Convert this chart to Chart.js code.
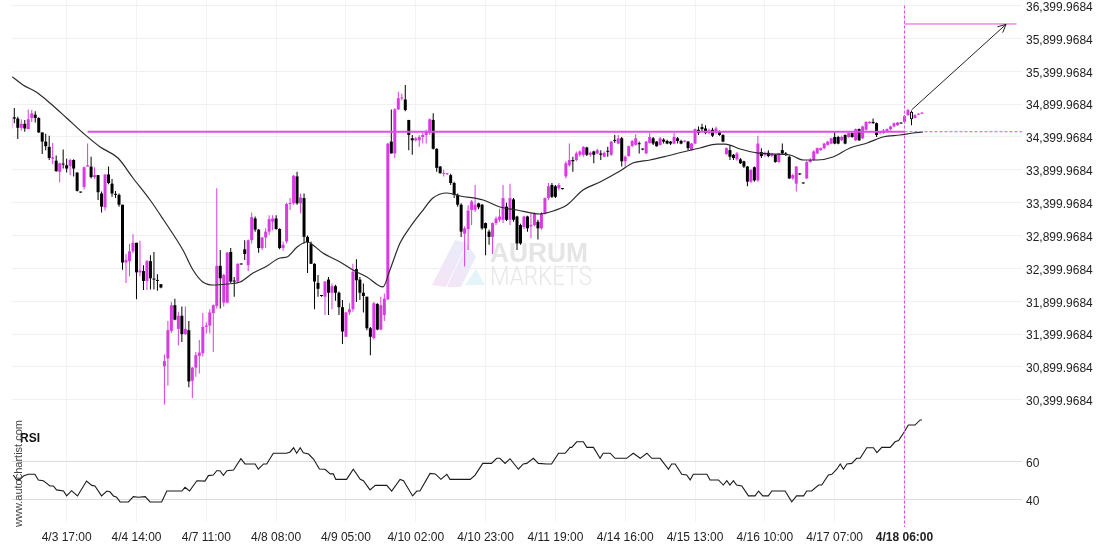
<!DOCTYPE html>
<html><head><meta charset="utf-8">
<script src="https://cdn.jsdelivr.net/npm/chart.js@4.4.1/dist/chart.umd.min.js"></script>
<style>html,body{margin:0;padding:0;background:#fff;}canvas{display:block;}</style>
</head><body>
<canvas id="c" width="1110" height="550"></canvas>
<script>
// ---- data ----
const opens = [
34530,34700,34680,34540,34600,34520,34690,34740,34690,34470,
34330,34250,34070,34040,33870,33990,33970,33960,34050,33860,
33560,33640,33950,33950,33790,33820,33540,33330,33830,33690,
33530,33520,33370,32490,32510,32660,32790,32340,32360,32210,
32510,32240,32220,32160,30910,31030,31450,31840,31480,31680,
31400,31460,30690,30890,31070,31110,31510,31530,31720,31830,
32440,31880,31880,32650,32210,32200,32470,32690,32450,32830,
33160,32990,32710,32870,32960,33110,33160,33000,32710,32810,
33380,33390,33800,33390,33470,32880,32770,32470,32180,31985,
31970,32230,32030,32130,32030,31810,31360,31730,31780,32390,
32230,32030,31970,31490,31340,31860,31470,31690,31930,34330,
34150,34820,34985,34970,34660,34380,34350,34350,34400,34430,
34460,34660,34220,33950,33840,33835,33820,33700,33520,33370,
32930,33000,33290,33290,33390,33370,33090,32960,32880,33090,
33140,33140,33340,33140,33450,33190,33060,33030,33190,33040,
33060,33110,33010,33240,33470,33670,33650,33620,33612,33800,
33970,34050,34050,34130,34130,34240,34130,34180,34150,34150,
34100,34180,34130,34350,34300,34380,34030,34110,34260,34280,
34300,34215,34150,34310,34380,34330,34280,34360,34340,34330,
34300,34380,34340,34330,34330,34200,34300,34510,34550,34530,
34460,34510,34470,34480,34430,34140,34200,34130,34060,34060,
34030,33950,33720,33940,33740,34170,34130,34160,34110,34130,
34020,34200,34150,34100,33770,33690,33840,33700,33770,34020,
34050,34150,34200,34230,34280,34300,34400,34400,34350,34430,
34400,34460,34350,34520,34380,34510,34610,34630,34610,34460,
34460,34480,34520,34560,34580,34610,34630,34735,34785,34690,
34740,34755];
const highs = [
34720,34840,34710,34670,34660,34820,34810,34790,34700,34470,
34450,34420,34310,34120,34010,34210,34070,34070,34060,33860,
33565,33950,34300,34100,33940,33820,33570,33830,33950,33760,
33580,33540,33370,32620,32770,32920,32790,32820,32450,32530,
32600,32650,32310,32160,31090,31600,31890,31940,31740,31820,
31820,31600,30900,31130,31310,31720,31580,31780,31850,33620,
32680,32320,32650,32710,32270,32480,32470,32830,32840,33250,
33190,33000,32880,33010,33210,33210,33210,33010,32810,33400,
33470,33820,33870,33540,33540,32900,32810,32480,32300,31990,
32210,32270,32170,32150,32050,31920,31740,31870,32470,32540,
32270,32170,31970,31510,31890,31870,31970,32020,34310,34820,
34840,35090,35060,35190,34660,34430,34400,34430,34460,34510,
34680,34760,34230,33960,33900,33850,33840,33720,33540,33390,
33040,33360,33440,33670,33400,33380,33100,32990,33100,33190,
33310,33670,33400,33690,33470,33200,33080,33200,33200,33240,
33250,33140,33260,33480,33700,33700,33670,33700,33615,34030,
34300,34100,34180,34200,34260,34250,34180,34190,34220,34200,
34180,34250,34340,34430,34430,34400,34120,34270,34350,34440,
34330,34220,34340,34460,34400,34340,34400,34380,34360,34340,
34460,34400,34360,34350,34340,34310,34530,34560,34600,34580,
34530,34540,34560,34500,34440,34240,34280,34140,34170,34080,
34040,33960,33910,33950,34420,34230,34180,34200,34160,34140,
34160,34300,34170,34120,33840,33960,33850,33700,34040,34080,
34200,34240,34240,34310,34340,34390,34480,34420,34420,34440,
34470,34470,34530,34530,34570,34640,34640,34680,34620,34490,
34520,34530,34570,34620,34630,34615,34730,34830,34800,34745,
34760,34775];
const lows = [
34500,34610,34370,34500,34480,34520,34630,34620,34460,34140,
34200,34050,33990,33870,33710,33920,33860,33820,33800,33570,
33550,33600,33950,33770,33760,33440,33250,33280,33680,33490,
33470,33340,32380,32180,32280,32630,31930,32280,32070,32070,
32080,32080,32060,32100,30330,30620,31420,31610,31230,31280,
31390,30590,30430,30750,30800,31060,31410,31410,31130,31790,
31790,31820,31870,32180,31970,32180,32460,32530,32360,32780,
32960,32640,32680,32710,32910,32980,32990,32690,32670,32780,
33290,33370,33370,33240,32780,32330,32470,31780,31970,31970,
31690,31690,31780,31910,31690,31250,31360,31690,31740,31890,
31920,31730,31460,31080,31320,31460,31460,31600,31920,34150,
34080,34810,34960,34790,34200,34130,34330,34250,34300,34300,
34430,34210,33870,33840,33800,33820,33670,33470,33340,32880,
32430,32680,33060,33260,33300,32990,32600,32760,32620,33060,
33110,33090,33120,33060,33110,32680,32760,33000,32960,32860,
33040,32840,32990,33220,33440,33470,33470,33590,33600,33770,
33950,33870,34030,34100,34100,34110,34100,34000,34140,34050,
34090,34100,34110,34310,34290,33950,33950,34100,34250,34270,
34150,34200,34140,34300,34280,34250,34270,34300,34290,34280,
34290,34300,34290,34320,34200,34190,34290,34430,34490,34440,
34440,34400,34440,34420,34320,34130,34050,34050,34040,33990,
33930,33650,33700,33720,33720,34080,34100,34090,34100,34010,
34010,34140,34110,33760,33750,33570,33820,33690,33760,34010,
34040,34140,34190,34215,34270,34290,34290,34290,34340,34290,
34390,34390,34340,34340,34370,34500,34600,34600,34400,34440,
34450,34470,34500,34550,34570,34600,34610,34720,34580,34680,
34735,34750];
const closes = [
34690,34680,34540,34600,34530,34670,34760,34690,34470,34330,
34260,34080,34090,33880,34000,33980,33920,34050,33920,33580,
33555,33940,33970,33790,33820,33560,33340,33830,33700,33540,
33520,33370,32490,32530,32660,32790,32340,32370,32210,32510,
32250,32230,32210,32110,30990,31460,31840,31620,31680,31400,
31480,30680,30890,31080,31120,31510,31530,31730,31840,32440,
32250,32300,32640,32200,32200,32470,32460,32620,32830,33180,
32990,32710,32870,32960,33150,33160,33000,32710,32760,33380,
33390,33810,33390,33480,32880,32800,32470,32200,32090,31980,
32200,32030,32130,32030,31810,31440,31730,31780,32350,32220,
32030,31980,31490,31360,31870,31470,31840,31940,34300,34150,
34820,34990,35000,34810,34430,34350,34380,34400,34430,34480,
34670,34220,33930,33850,33850,33842,33700,33520,33370,32960,
33010,33280,33420,33370,33330,33010,33010,32880,33090,33160,
33190,33470,33140,33470,33140,32780,32780,33190,33010,33060,
33240,33010,33240,33470,33650,33490,33490,33670,33607,34000,
34050,34030,34150,34180,34250,34130,34160,34130,34200,34130,
34160,34175,34330,34340,34380,34030,34100,34260,34340,34380,
34290,34210,34330,34400,34300,34260,34380,34330,34300,34300,
34400,34340,34300,34345,34230,34300,34520,34460,34520,34460,
34500,34420,34530,34430,34330,34230,34100,34080,34150,34000,
33950,33720,33900,33740,34300,34110,34160,34110,34150,34020,
34150,34150,34130,33770,33820,33950,33830,33694,34020,34050,
34180,34230,34230,34300,34330,34380,34300,34300,34400,34300,
34460,34400,34520,34350,34560,34630,34630,34610,34430,34480,
34500,34520,34560,34610,34620,34605,34720,34810,34670,34735,
34750,34765];
const hollowBar = 258;

// moving average (bar index, value)
const maIdx = [0.4,3.5,7.4,11.2,16,20.7,25.6,30.7,35,39.9,43.6,49.3,52.2,55,57.9,61.9,65.7,69.4,73.4,77.1,79.1,82,84.8,85.7,89.4,94.3,98,102,106.6,108.6,111.5,114.4,118.1,120.9,125,128.7,135.3,140.1,145,151.6,154.4,159.3,163.9,168.8,174.5,178.2,183.1,188,192.5,197.4,202.3,204.6,208.9,213.7,217.5,223.2,227,231,235.5,240.4,245.3,249.8,254.7,258.4,261.3];
const maVal = [35318,35191,35080,34917,34689,34461,34248,34080,33776,33441,33152,32680,32376,32193,32148,32163,32193,32330,32437,32559,32574,32726,32802,32787,32635,32498,32376,32270,32118,32376,32787,33030,33289,33472,33548,33502,33441,33335,33289,33228,33258,33365,33593,33715,33882,34004,34050,34111,34172,34233,34293,34293,34217,34157,34141,34126,34050,34050,34096,34233,34309,34400,34430,34461,34476];

// RSI (bar index, value)
const rsiIdx = [0.7,1.7,2.6,3.6,5.0,6.9,7.9,9.3,10.3,11.2,12.2,13.1,15.1,16.0,17.4,19.1,21.7,23.2,24.1,26.0,27.5,28.4,29.4,30.3,31.3,33.7,35.1,36.5,38.5,39.9,43.2,44.7,49.0,49.9,51.2,53.3,55.6,56.6,58.0,59.0,59.9,60.9,61.9,63.8,65.9,67.1,70.0,70.9,72.4,73.3,75.2,79.0,80.0,81.0,81.9,82.9,83.8,85.3,86.7,88.4,90.0,91.5,92.4,93.1,96.2,98.1,100.1,101.0,102.9,104.4,107.7,109.1,111.5,112.5,115.1,116.3,117.2,120.1,121.6,123.2,124.9,125.8,131.6,133.0,135.2,137.7,139.2,140.1,141.6,143.0,145.4,146.8,147.8,149.7,151.1,153.5,154.9,156.9,158.8,160.2,160.7,162.1,164.0,165.0,166.9,168.8,169.7,171.7,173.1,176.4,178.3,180.3,182.2,183.6,186.0,188.4,189.3,190.3,192.2,193.6,194.6,195.5,199.4,200.3,202.7,204.1,205.1,206.0,207.0,207.9,209.4,211.3,213.2,214.2,215.4,217.0,218.0,221.8,223.7,225.1,227.1,228.0,229.4,231.4,232.3,234.2,235.2,236.6,237.6,238.5,239.5,240.9,242.3,243.3,245.2,247.1,248.1,249.5,251.9,253.3,254.3,255.7,257.1,259.0,260.5,261];
const rsiVal = [52.9,50.3,50.6,52.4,53.3,53.3,50.3,49.9,48.5,47.1,47.1,45.0,44.4,41.8,44.6,41.8,49.7,47.4,47.1,41.8,44.4,44.0,41.8,41.1,38.6,38.6,41.4,41.1,41.4,38.6,38.6,44.4,44.4,46.4,44.4,49.9,49.7,52.6,52.9,55.2,55.2,52.7,55.2,55.6,61.6,58.8,58.8,56.0,58.8,58.8,64.5,64.5,65.2,67.4,64.5,67.4,64.8,64.1,61.4,56.1,56.0,53.5,53.5,50.6,50.6,56.0,50.6,49.9,45.0,47.4,47.4,44.4,50.6,49.9,41.8,44.4,44.4,53.8,53.5,50.6,53.3,50.6,50.6,52.9,59.1,59.1,61.8,61.8,59.1,61.6,56.0,58.8,59.1,61.8,59.1,58.8,58.8,64.5,64.5,67.6,67.6,70.6,70.6,67.6,67.6,61.8,64.5,64.5,61.8,61.8,64.5,61.8,64.5,61.8,61.8,56.0,58.8,58.8,53.3,52.9,50.3,53.3,53.3,50.3,50.3,47.6,49.9,47.6,49.9,47.6,47.1,41.8,41.8,44.4,41.8,41.8,44.4,44.4,38.7,41.8,41.8,44.4,44.4,47.6,47.6,52.9,53.3,56.0,58.8,56.0,58.8,59.1,61.8,61.8,67.4,67.4,64.8,67.6,67.6,70.6,71.2,75.1,79.5,79.5,82.2,82.2];

// axis ticks
const xTickIdx = [16,36,56,76,96,116,136,156,176,196,216,236,256];
const xTickLabels = ['4/3 17:00','4/4 14:00','4/7 11:00','4/8 08:00','4/9 05:00','4/10 02:00','4/10 23:00','4/11 19:00','4/14 16:00','4/15 13:00','4/16 10:00','4/17 07:00','4/18 06:00'];
const priceTicks = [30399.9684,30899.9684,31399.9684,31899.9684,32399.9684,32899.9684,33399.9684,33899.9684,34399.9684,34899.9684,35399.9684,35899.9684,36399.9684];
const rsiTicks = [40,60];

// pattern annotation
const resistanceLevel = 34480;
const resistanceBars = [22, 256];
const signalBar = 256;
const targetLevel = 36120;
const targetBars = [256, 288.1];
const arrowBars = [258, 285.1];
const arrowValues = [34811, 36115];

// ---- drawing ----
const FONT = '"Liberation Sans", Arial, sans-serif';
const MAG = '#d83be4';
const MAG_LINE = '#e04ee6';
const idx = opens.map((_, i) => i);
const isUp = i => closes[i] >= opens[i];
const candleColor = i => isUp(i) ? MAG : '#000000';
const fmt = v => { const p = v.toFixed(4).split('.'); return p[0].replace(/\B(?=(\d{3})+(?!\d))/g, ',') + '.' + p[1]; };

const X_MIN = 0.344, X_MAX = 289.66;

function poly(ctx, pts) { ctx.beginPath(); ctx.moveTo(pts[0][0], pts[0][1]); for (let i = 1; i < pts.length; i++) ctx.lineTo(pts[i][0], pts[i][1]); ctx.closePath(); ctx.fill(); }

const overlay = {
  id: 'overlay',
  beforeDatasetsDraw(chart) {
    const ctx = chart.ctx;
    ctx.save();
    // watermark logo
    const g = ctx.createLinearGradient(432, 287, 485, 240);
    g.addColorStop(0, 'rgba(246,222,244,0.85)');
    g.addColorStop(1, 'rgba(222,236,250,0.85)');
    ctx.fillStyle = g;
    poly(ctx, [[432, 285], [446, 287], [467, 243], [455, 240]]);
    poly(ctx, [[447, 287], [461, 287], [476, 257], [467, 244]]);
    const g2 = ctx.createLinearGradient(465, 287, 485, 268);
    g2.addColorStop(0, 'rgba(225,240,250,0.85)');
    g2.addColorStop(1, 'rgba(220,245,250,0.85)');
    ctx.fillStyle = g2;
    poly(ctx, [[465, 285], [485, 285], [476, 269]]);
    ctx.fillStyle = '#e5e5e5';
    ctx.font = 'bold 27px "Liberation Sans", Arial, sans-serif';
    ctx.textBaseline = 'alphabetic';
    ctx.fillText('AURUM', 490, 262, 98);
    ctx.font = '300 25px Roboto, "Liberation Sans", sans-serif';
    ctx.fillStyle = '#e7e7e7';
    ctx.fillText('MARKETS', 490, 284.5, 102);
    ctx.restore();
  },
  afterDatasetsDraw(chart) {
    const {ctx, scales, chartArea} = chart;
    const x = scales.x, y = scales.y;
    ctx.save();
    // vertical signal line
    const sx = Math.round(x.getPixelForValue(signalBar)) + 0.5;
    ctx.strokeStyle = MAG_LINE; ctx.lineWidth = 1; ctx.setLineDash([3, 2]);
    ctx.beginPath();
    ctx.moveTo(sx, y.getPixelForValue(priceTicks[priceTicks.length - 1]));
    ctx.lineTo(sx, chartArea.bottom + 5);
    ctx.stroke();
    ctx.setLineDash([]);
    // arrow head
    const x0 = x.getPixelForValue(arrowBars[0]), y0 = y.getPixelForValue(arrowValues[0]);
    const x1 = x.getPixelForValue(arrowBars[1]), y1 = y.getPixelForValue(arrowValues[1]);
    const a = Math.atan2(y1 - y0, x1 - x0);
    ctx.strokeStyle = '#222'; ctx.lineWidth = 1;
    ctx.beginPath();
    ctx.moveTo(x1 - 9 * Math.cos(a - 0.45), y1 - 9 * Math.sin(a - 0.45));
    ctx.lineTo(x1, y1);
    ctx.lineTo(x1 - 9 * Math.cos(a + 0.45), y1 - 9 * Math.sin(a + 0.45));
    ctx.stroke();
    // panel texts
    ctx.fillStyle = '#111';
    ctx.font = 'bold 12px ' + FONT;
    ctx.textBaseline = 'alphabetic';
    ctx.fillText('RSI', 20, 442);
    ctx.translate(22, 527);
    ctx.rotate(-Math.PI / 2);
    ctx.fillStyle = '#444';
    ctx.font = '11px ' + FONT;
    ctx.fillText('www.autochartist.com', 0, 0);
    ctx.restore();
  }
};

const line = (pts, color, width, extra) => Object.assign({
  type: 'line', data: pts, borderColor: color, borderWidth: width, pointRadius: 0,
  fill: false, yAxisID: 'y', order: 1
}, extra || {});

new Chart(document.getElementById('c'), {
  type: 'bar',
  data: {
    datasets: [
      { type: 'bar', label: 'wick', yAxisID: 'y', order: 4, grouped: false,
        data: idx.map(i => ({x: i, y: [lows[i], highs[i]]})),
        backgroundColor: idx.map(candleColor), barThickness: 1, minBarLength: 1, inflateAmount: 0 },
      { type: 'bar', label: 'body', yAxisID: 'y', order: 3, grouped: false,
        data: idx.map(i => ({x: i, y: [opens[i], closes[i]]})),
        backgroundColor: idx.map(i => i === hollowBar ? '#ffffff' : candleColor(i)),
        borderColor: idx.map(i => i === hollowBar ? '#000000' : candleColor(i)),
        borderWidth: idx.map(i => i === hollowBar ? 1 : 0), borderSkipped: false,
        barThickness: 3, minBarLength: 1, inflateAmount: 0 },
      line(maIdx.map((v, i) => ({x: v, y: maVal[i]})), '#2a2a2a', 1.2, {order: 2, tension: 0.35, cubicInterpolationMode: 'monotone'}),
      line(rsiIdx.map((v, i) => ({x: v, y: rsiVal[i]})), '#1a1a1a', 1.1, {yAxisID: 'yRsi', order: 2}),
      line(resistanceBars.map(b => ({x: b, y: resistanceLevel})), MAG_LINE, 2),
      line([{x: resistanceBars[1], y: resistanceLevel}, {x: X_MAX, y: resistanceLevel}], MAG_LINE, 1, {borderDash: [3, 2]}),
      line(targetBars.map(b => ({x: b, y: targetLevel})), MAG_LINE, 1),
      line(arrowBars.map((b, i) => ({x: b, y: arrowValues[i]})), '#222', 1)
    ]
  },
  options: {
    responsive: false, animation: false, devicePixelRatio: 1,
    layout: {padding: {left: 12, right: 0, top: 0, bottom: 0}},
    plugins: {legend: {display: false}, tooltip: {enabled: false}},
    scales: {
      x: {
        type: 'linear', position: 'bottom', min: X_MIN, max: X_MAX, offset: false,
        afterBuildTicks: s => { s.ticks = xTickIdx.map(v => ({value: v})); },
        afterFit: s => { s.height = 28; s.paddingLeft = 0; s.paddingRight = 0; },
        ticks: {
          autoSkip: false, maxRotation: 0, minRotation: 0, padding: 8, color: '#222',
          font: c => ({family: FONT, size: 12, weight: c.index === xTickIdx.length - 1 ? 'bold' : 'normal'}),
          callback: (v, i) => xTickLabels[i]
        },
        grid: {color: '#f3f3f3', drawTicks: false, offset: false}, border: {display: false}
      },
      y: {
        position: 'right', stack: 'pane', stackWeight: 415,
        min: 30169.53, max: 36484.75,
        afterBuildTicks: s => { s.ticks = priceTicks.map(v => ({value: v})); },
        afterFit: s => { s.width = 88; s.paddingTop = 0; s.paddingBottom = 0; },
        ticks: {autoSkip: false, padding: 4, labelOffset: 2, color: '#222', font: {family: FONT, size: 12}, callback: v => fmt(v)},
        grid: {color: '#f0f0f0', drawTicks: false}, border: {display: false}
      },
      yRsi: {
        axis: 'y', position: 'right', stack: 'pane', stackWeight: 107,
        min: 27.93, max: 84.84,
        afterBuildTicks: s => { s.ticks = rsiTicks.map(v => ({value: v})); },
        afterFit: s => { s.width = 88; s.paddingTop = 0; s.paddingBottom = 0; },
        ticks: {autoSkip: false, padding: 4, labelOffset: 2, color: '#222', font: {family: FONT, size: 12}, callback: v => String(v)},
        grid: {color: '#dcdcdc', drawTicks: false}, border: {display: false}
      }
    }
  },
  plugins: [overlay]
});
</script>
</body></html>
